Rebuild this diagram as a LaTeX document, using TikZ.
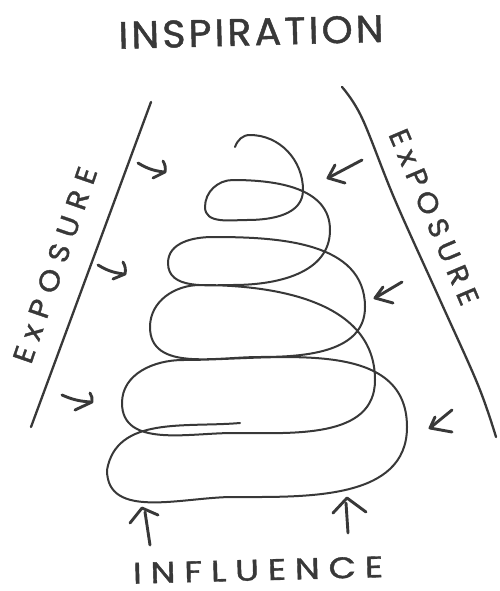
\documentclass[tikz,border=0pt]{standalone}
\usepackage{fontspec}
\usepackage{graphicx}
\newfontfamily\inspfont[LetterSpace=8,FakeBold=1.2]{Poppins}
\newfontfamily\inflfont[LetterSpace=25,FakeBold=1.2]{Poppins}
\newfontfamily\explfont[LetterSpace=28,FakeBold=1.2]{Poppins}
\newfontfamily\exprfont[LetterSpace=22,FakeBold=1.2]{Poppins}
\definecolor{ink}{HTML}{383838}
\tikzset{
  inkline/.style={draw=ink, line width=2.3pt, line cap=round, line join=round},
  spiralline/.style={draw=ink, line width=2pt, line cap=round, line join=round},
  arrowline/.style={draw=ink, line width=2.9pt, line cap=round, line join=round},
  lab/.style={text=ink, inner sep=0pt, outer sep=0pt},
}
\begin{document}
\begin{tikzpicture}[x=1pt,y=1pt]
\fill[white] (0,0) rectangle (499,-591);
\useasboundingbox (0,0) rectangle (499,-591);

% titles
\node[lab, rotate=1.5] (insp) at (251,-32) {\resizebox{265pt}{27pt}{\inspfont INSPIRATION}};
\node[lab, rotate=1.5] (infl) at (258,-570) {\resizebox{250pt}{21pt}{\inflfont INFLUENCE}};
\node[lab, rotate=71] (expl) at (55,-265) {\resizebox{205pt}{20pt}{\explfont ExPOSURE}};
\node[lab, rotate=-67] (expr) at (434,-217) {\resizebox{188pt}{20pt}{\exprfont ExPOSURE}};

% side lines
\coordinate (lt) at (151,-102);
\coordinate (lb) at (31,-427);
\draw[inkline] (lt) -- (lb);
\draw[inkline] plot[smooth, tension=0.6] coordinates {(342,-87) (362,-118) (395,-200) (440,-300) (478,-385) (496,-437)};

% spiral
\draw[spiralline] (235,-147) to[out=70,in=180] (250,-135)
 to[out=0,in=90] (303,-190)
 to[out=270,in=0] (247,-220)
 to[out=180,in=270] (205,-207)
 to[out=90,in=180] (233,-180)
 to[out=0,in=90] (330,-230)
 to[out=270,in=0] (233,-285)
 to[out=180,in=270] (168,-263)
 to[out=90,in=180] (213,-237)
 to[out=0,in=90] (365,-307)
 to[out=270,in=0] (260,-357)
 to[out=180,in=270] (150,-327)
 to[out=90,in=180] (200,-285)
 to[out=0,in=90] (375,-380)
 to[out=270,in=0] (233,-433)
 to[out=180,in=270] (122,-403)
 to[out=90,in=180] (183,-360)
 to[out=0,in=90] (407,-427)
 to[out=270,in=0] (233,-497)
 to[out=180,in=270] (107,-470)
 to[out=80,in=185] (240,-423);

% left arrows
\draw[arrowline] (138,-163) to[bend right=12] (164,-172);
\draw[arrowline] (163,-161) to[bend left=20] (165,-172) -- (153,-178);
\draw[arrowline] (98,-265) to[bend right=12] (124,-274);
\draw[arrowline] (123,-262) to[bend left=20] (125,-274) -- (113,-279);
\draw[arrowline] (62,-395) to[bend right=10] (91,-402);
\draw[arrowline] (90,-393) to[bend left=20] (92,-402) -- (75,-410);

% right arrows
\draw[arrowline] (362,-160) -- (328,-178);
\draw[arrowline] (335,-165) -- (328,-178) -- (345,-183);
\draw[arrowline] (402,-282) -- (375,-298);
\draw[arrowline] (383,-287) -- (375,-298) -- (393,-303);
\draw[arrowline] (452,-410) -- (430,-428);
\draw[arrowline] (435,-417) -- (430,-428) -- (452,-432);

% bottom arrows
\draw[arrowline] (150,-545) -- (145,-512);
\draw[arrowline] (130,-523) -- (142,-508) -- (158,-515);
\draw[arrowline] (348,-533) -- (346,-503);
\draw[arrowline] (333,-513) -- (347,-498) -- (366,-512);
\end{tikzpicture}
\end{document}
